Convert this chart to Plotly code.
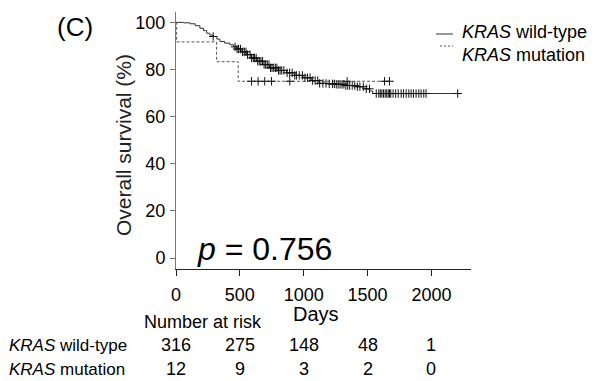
import numpy as np
import plotly.graph_objects as go

# ---------------- data ----------------
wt_days = [0, 60, 110, 150, 187, 215, 240, 265, 291, 320, 344, 380, 422, 450, 474, 510,
           552, 590, 630, 680, 734, 800, 865, 930, 995, 1060, 1125, 1190, 1255, 1330,
           1412, 1470, 1516, 1541, 2220]
wt_surv = [100, 99.8, 99.4, 98.6, 97.5, 96.5, 95.4, 94.6, 94.0, 92.9, 91.9, 91.2, 90.5,
           89.6, 88.7, 87.5, 86.3, 84.9, 83.5, 82.1, 80.7, 79.6, 78.6, 77.5, 76.5, 75.3,
           74.1, 73.9, 73.7, 73.2, 72.7, 71.8, 70.9, 69.8, 69.8]
wt_censor = [291, 462, 478, 490, 505, 520, 535, 548, 560, 580, 592, 605, 615, 628, 640,
             652, 665, 678, 690, 702, 715, 728, 740, 752, 765, 778, 790, 803, 815, 828,
             845, 870, 890, 910, 930, 943, 965, 990, 1010, 1030, 1050, 1070, 1090, 1110,
             1125, 1150, 1175, 1200, 1225, 1240, 1255, 1270, 1285, 1300, 1315, 1330, 1345,
             1360, 1380, 1400, 1420, 1440, 1467, 1490, 1515, 1568, 1588, 1600, 1612, 1625,
             1638, 1650, 1662, 1672, 1682, 1700, 1720, 1740, 1763, 1781, 1802, 1823,
             1841, 1859, 1880, 1901, 1919, 1940, 1958, 2206]

mut_days = [0, 5, 318, 487, 1697]
mut_surv = [100, 91.7, 83.3, 75.0, 75.0]
mut_censor = [591, 643, 695, 748, 891, 1340, 1633, 1672]

risk_times = [0, 500, 1000, 1500, 2000]
risk_wt = [316, 275, 148, 48, 1]
risk_mut = [12, 9, 3, 2, 0]
group_labels = ["<i>KRAS</i> wild-type", "<i>KRAS</i> mutation"]

x_ticks = [0, 500, 1000, 1500, 2000]
y_ticks = [0, 20, 40, 60, 80, 100]


def step_at(days, surv, times):
    d = np.asarray(days)
    s = np.asarray(surv)
    idx = np.searchsorted(d, np.asarray(times), side="right") - 1
    return s[idx]


FONT = "Arial, Liberation Sans, sans-serif"
W, H = 613, 381
PX0, PX1, PY0, PY1 = 176, 471, 12, 269


def px(x):
    return (x - PX0) / (PX1 - PX0)


def py(y):
    return (PY1 - y) / (PY1 - PY0)


def text(t, x, y, size, xanchor="center", angle=0, color="black"):
    return dict(text=t, x=px(x), y=py(y), xref="paper", yref="paper",
                xanchor=xanchor, yanchor="middle", textangle=angle, showarrow=False,
                font=dict(size=size, color=color, family=FONT))


fig = go.Figure()

fig.add_trace(go.Scatter(x=wt_days, y=wt_surv, mode="lines", line_shape="hv",
                         line=dict(color="#333333", width=1), showlegend=False))
fig.add_trace(go.Scatter(x=mut_days, y=mut_surv, mode="lines", line_shape="hv",
                         line=dict(color="#555555", width=1, dash="3px,2px"),
                         showlegend=False))
fig.add_trace(go.Scatter(x=wt_censor, y=step_at(wt_days, wt_surv, wt_censor), mode="markers",
                         marker=dict(symbol="cross-thin", size=6,
                                     line=dict(color="#111111", width=1)),
                         showlegend=False))
fig.add_trace(go.Scatter(x=mut_censor, y=step_at(mut_days, mut_surv, mut_censor),
                         mode="markers",
                         marker=dict(symbol="cross-thin", size=6,
                                     line=dict(color="#111111", width=1)),
                         showlegend=False))

ann = []
ann.append(text("(C)", 75, 27, 26))
ann.append(text("Overall survival (%)", 124, 145, 21, angle=-90, color="#222"))
ann.append(text("<i>p</i> = 0.756", 264, 249, 32))
ann.append(text("Days", 316, 314, 20))
ann.append(text("Number at risk", 203, 322, 18))
row_y = [345, 369]
for lab, ry, vals in zip(group_labels, row_y, [risk_wt, risk_mut]):
    ann.append(text(lab, 7, ry, 17, xanchor="left"))
    for t, v in zip(risk_times, vals):
        ann.append(dict(text=str(v), x=t, y=py(ry), xref="x", yref="paper",
                        xanchor="center", yanchor="middle", showarrow=False,
                        font=dict(size=18, color="black", family=FONT)))
# legend
leg_y = [32, 55]
for lab, ly in zip(group_labels, leg_y):
    ann.append(text(lab, 460, ly, 18, xanchor="left"))

shapes = [
    dict(type="line", xref="paper", yref="paper", x0=px(436), x1=px(453), y0=py(34),
         y1=py(34), line=dict(color="#333", width=1)),
    dict(type="line", xref="paper", yref="paper", x0=px(440), x1=px(453), y0=py(46),
         y1=py(46), line=dict(color="#555", width=1, dash="2px,2px")),
]

fig.update_layout(
    width=W, height=H,
    margin=dict(l=PX0, r=W - PX1, t=PY0, b=H - PY1, autoexpand=False),
    paper_bgcolor="white", plot_bgcolor="white",
    font=dict(family=FONT, color="black"),
    annotations=ann, shapes=shapes,
    xaxis=dict(range=[0, 2310], tickvals=x_ticks, ticks="outside", ticklen=6,
               tickcolor="#222", showline=True, linecolor="#222", linewidth=1,
               showgrid=False, zeroline=False, ticklabelstandoff=3, automargin=False,
               tickfont=dict(size=18, color="black")),
    yaxis=dict(range=[-4.67, 104.4], tickvals=y_ticks, ticks="outside", ticklen=5,
               tickcolor="#777", showline=True, linecolor="#777", linewidth=1,
               showgrid=False, zeroline=False, ticklabelstandoff=1, automargin=False,
               tickfont=dict(size=18, color="black")),
)

fig.write_html("out.html", config={"displayModeBar": False},
               post_script="document.body.style.margin='0';")
